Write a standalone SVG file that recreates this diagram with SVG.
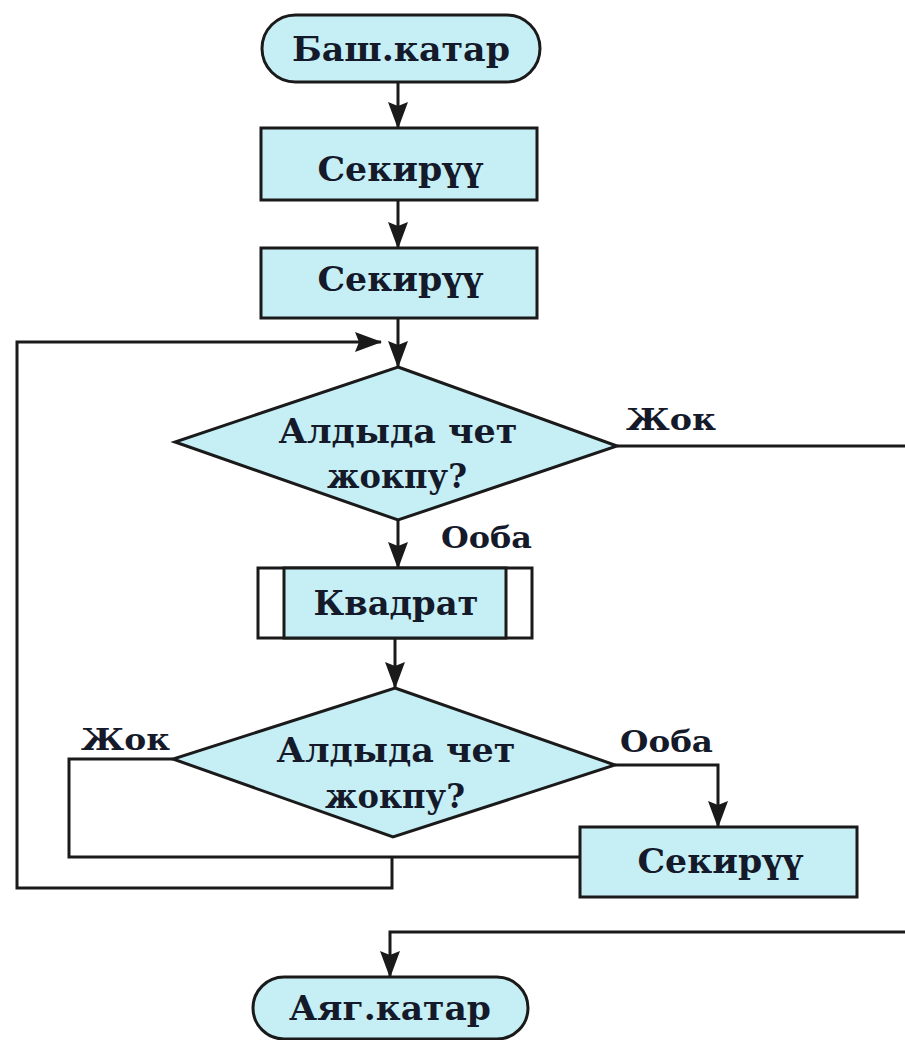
<svg xmlns="http://www.w3.org/2000/svg" width="905" height="1040" viewBox="0 0 905 1040">
<style>
.shape{fill:#c6eef5;stroke:#1a1a1a;stroke-width:3}
.plain{fill:#ffffff;stroke:#1a1a1a;stroke-width:3}
.line{fill:none;stroke:#1a1a1a;stroke-width:3}
.t{font-family:"DejaVu Serif","Liberation Serif",serif;font-weight:bold;font-size:33px;fill:#151a2a;text-anchor:middle}
.lbl{font-family:"DejaVu Serif","Liberation Serif",serif;font-weight:bold;font-size:29px;fill:#151a2a}
</style>
<defs>
<marker id="arr" markerWidth="27" markerHeight="20" refX="26" refY="10" orient="auto" markerUnits="userSpaceOnUse">
<path d="M0,0 L27,10 L0,20 L4,10 Z" fill="#1a1a1a"/>
</marker>
</defs>
<rect width="905" height="1040" fill="#ffffff"/>
<g id="connectors">
<line class="line" x1="398" y1="82" x2="398" y2="128" marker-end="url(#arr)"/>
<line class="line" x1="398" y1="200" x2="398" y2="248" marker-end="url(#arr)"/>
<line class="line" x1="398" y1="318" x2="398" y2="367" marker-end="url(#arr)"/>
<polyline class="line" points="392,857 392,888 17,888 17,342 381,342" marker-end="url(#arr)"/>
<line class="line" x1="617" y1="446" x2="905" y2="446"/>
<line class="line" x1="398" y1="520" x2="398" y2="568" marker-end="url(#arr)"/>
<line class="line" x1="395" y1="638" x2="395" y2="688" marker-end="url(#arr)"/>
<polyline class="line" points="615,765 718,765 718,827" marker-end="url(#arr)"/>
<polyline class="line" points="173,759 69,759 69,857 580,857"/>
<polyline class="line" points="905,932 390,932 390,977" marker-end="url(#arr)"/>
</g>
<g id="start">
<rect class="shape" x="262" y="15" width="278" height="67" rx="33.5"/>
<text class="t" x="401" y="61" textLength="218" lengthAdjust="spacingAndGlyphs">Баш.катар</text>
</g>
<g id="jump1">
<rect class="shape" x="261" y="128" width="276" height="72"/>
<text class="t" x="400" y="181" textLength="165" lengthAdjust="spacingAndGlyphs">Секирүү</text>
</g>
<g id="jump2">
<rect class="shape" x="261" y="248" width="276" height="70"/>
<text class="t" x="400" y="291" textLength="165" lengthAdjust="spacingAndGlyphs">Секирүү</text>
</g>
<g id="decision1">
<polygon class="shape" points="398,367 617,446 398,520 175,442"/>
<text class="t" x="398" y="443" textLength="239" lengthAdjust="spacingAndGlyphs">Алдыда чет</text>
<text class="t" x="397" y="488" textLength="140" lengthAdjust="spacingAndGlyphs">жокпу?</text>
<text class="lbl" x="626" y="430" textLength="90" lengthAdjust="spacingAndGlyphs">Жок</text>
<text class="lbl" x="441" y="548" textLength="91" lengthAdjust="spacingAndGlyphs">Ооба</text>
</g>
<g id="square">
<rect class="plain" x="258" y="568" width="274" height="70"/>
<rect class="shape" x="284" y="568" width="222" height="70"/>
<text class="t" x="396" y="615" textLength="165" lengthAdjust="spacingAndGlyphs">Квадрат</text>
</g>
<g id="decision2">
<polygon class="shape" points="395,688 615,765 393,837 173,759"/>
<text class="t" x="396" y="762" textLength="239" lengthAdjust="spacingAndGlyphs">Алдыда чет</text>
<text class="t" x="395" y="808" textLength="140" lengthAdjust="spacingAndGlyphs">жокпу?</text>
<text class="lbl" x="81" y="750" textLength="89" lengthAdjust="spacingAndGlyphs">Жок</text>
<text class="lbl" x="620" y="752" textLength="93" lengthAdjust="spacingAndGlyphs">Ооба</text>
</g>
<g id="jump3">
<rect class="shape" x="580" y="827" width="277" height="70"/>
<text class="t" x="720" y="873" textLength="165" lengthAdjust="spacingAndGlyphs">Секирүү</text>
</g>
<g id="end">
<rect class="shape" x="253" y="977" width="275" height="62" rx="31"/>
<text class="t" x="390" y="1020" textLength="202" lengthAdjust="spacingAndGlyphs">Аяг.катар</text>
</g>
</svg>
